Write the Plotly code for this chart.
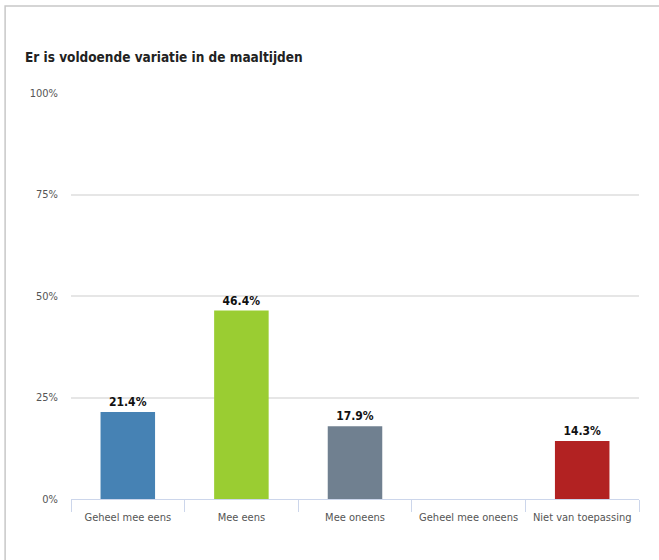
import plotly.graph_objects as go

# Survey answers and their share of respondents (%)
categories = ["Geheel mee eens", "Mee eens", "Mee oneens", "Geheel mee oneens", "Niet van toepassing"]
values = [21.4, 46.4, 17.9, 0.0, 14.3]
labels = ["21.4%", "46.4%", "17.9%", "", "14.3%"]
bar_colors = ["#4682B4", "#9ACD32", "#708090", "#708090", "#B22222"]
y_ticks = [0, 25, 50, 75, 100]
y_tick_text = ["0%", "25%", "50%", "75%", "100%"]

font_family = "DejaVu Sans Condensed, Liberation Sans Narrow, Roboto, sans-serif"

fig = go.Figure(
    go.Bar(
        x=categories,
        y=values,
        text=labels,
        textposition="outside",
        textfont=dict(family=font_family, size=12, color="#111111", weight="bold"),
        cliponaxis=False,
        marker=dict(color=bar_colors, line=dict(width=0)),
        width=0.48,
        hoverinfo="skip",
    )
)

fig.update_layout(
    width=659,
    height=560,
    margin=dict(l=71, r=20, t=93, b=61),
    paper_bgcolor="white",
    plot_bgcolor="white",
    showlegend=False,
    font=dict(family=font_family, size=11, color="#555555"),
    title=dict(
        text="<b>Er is voldoende variatie in de maaltijden</b>",
        x=25 / 659,
        xanchor="left",
        y=1 - 57 / 560,
        yanchor="middle",
        font=dict(family=font_family, size=13.5, color="#222222"),
    ),
    xaxis=dict(
        type="category",
        showgrid=False,
        showline=True,
        linecolor="#ccd6eb",
        linewidth=1,
        ticks="outside",
        tickson="boundaries",
        ticklen=12,
        tickcolor="#ccd6eb",
        ticklabelstandoff=8,
        tickfont=dict(family=font_family, size=11, color="#555555"),
        fixedrange=True,
    ),
    yaxis=dict(
        range=[0, 100],
        tickvals=y_ticks,
        ticktext=y_tick_text,
        showgrid=True,
        gridcolor="#e6e6e6",
        gridwidth=2,
        zeroline=False,
        showline=False,
        ticks="",
        ticklabelstandoff=12,
        tickfont=dict(family=font_family, size=11, color="#555555"),
        fixedrange=True,
    ),
    shapes=[
        # light frame along the top and left edges of the chart container
        dict(
            type="path",
            xref="paper",
            yref="paper",
            path="M -0.116,-0.2 L -0.116,1.214 L 1.04,1.214",
            line=dict(color="#c8c8c8", width=1.5),
        )
    ],
)

fig.write_html("out.html")
